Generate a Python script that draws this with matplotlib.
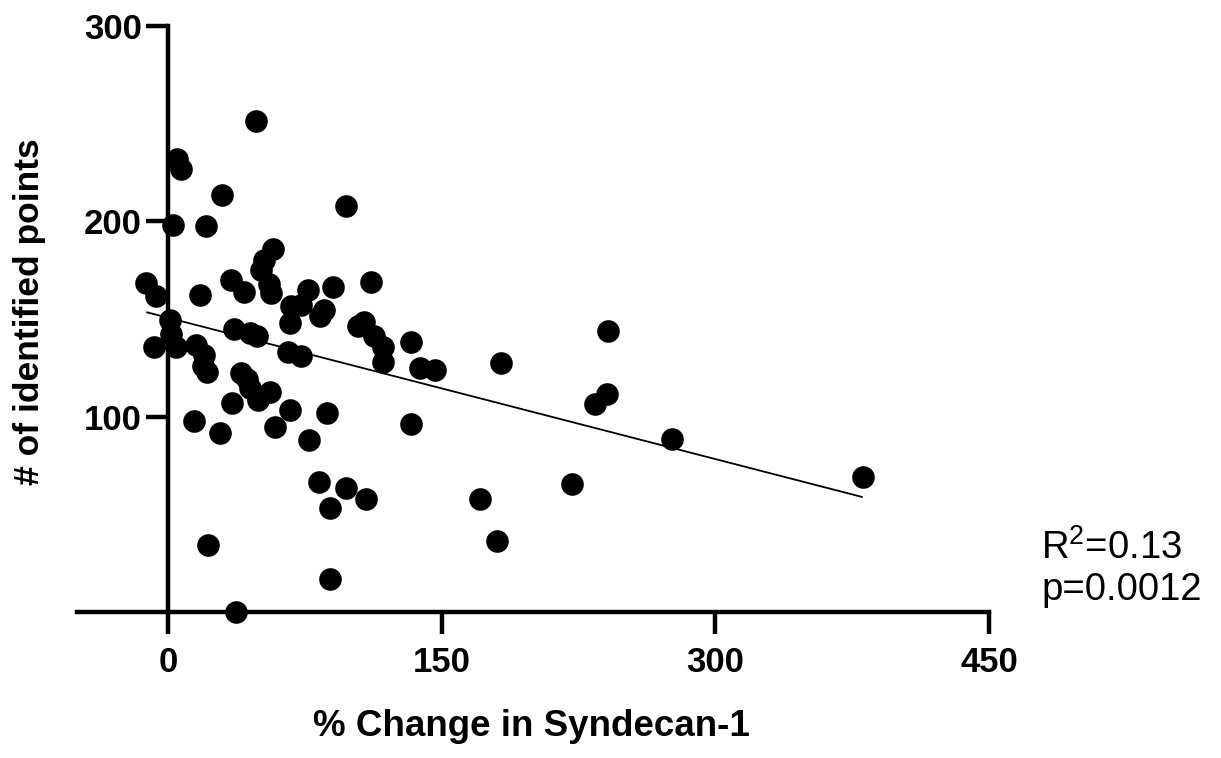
import matplotlib
matplotlib.use("Agg")
import matplotlib.pyplot as plt
import numpy as np

# ---- data ----
pct_change = [-12, -6.5, -8, 1, 1.5, 4.5, 2.7, 4.6, 6.9, 15.5, 17.5, 19.5, 19, 21.5,
              20.6, 29.6, 14, 28.3, 21.9, 35, 37, 34.3, 41.5, 36, 44.7, 48.8, 40, 43,
              45, 49.3, 55.7, 48, 57.2, 52.5, 50.8, 55.3, 56.4, 58.6, 67, 66.8, 67.2,
              73, 76.7, 65.6, 73, 77.3, 82.6, 85.5, 83, 87, 88.9, 88.9, 90.2, 97.5,
              97.7, 104, 107.5, 108.3, 111.2, 113, 117.8, 117.8, 133.3, 133.2, 137.9,
              146.1, 170.7, 180.4, 182.6, 221.4, 233.8, 240.7, 241.1, 276.3, 380.8]
n_points = [168.5, 162, 136, 149.5, 142.5, 136, 198, 232, 227, 137, 162.5, 131.5, 126, 123,
            197.5, 213.5, 98, 92, 34.4, 107, 0.3, 170, 164, 145, 143, 141.5, 122.5, 119.5,
            115, 108.5, 112.5, 251.5, 185.7, 180.3, 175.3, 168, 163.3, 94.6, 103.5, 148, 156.6,
            157.3, 164.7, 133.4, 131.3, 88, 66.5, 154.5, 151.7, 101.8, 53.2, 16.9, 166.4, 207.8,
            63.5, 146.6, 148.5, 58, 169.2, 141.5, 136, 128.3, 138.5, 96.2, 125,
            124, 58, 36.6, 127.4, 65.5, 106.6, 111.7, 144.1, 88.5, 69.4]
fit_slope = -0.241
fit_intercept = 150.7
x_ticks = [0, 150, 300, 450]
y_ticks = [100, 200, 300]
r2_text = "R$^{2}$=0.13"
p_text = "p=0.0012"

plt.rcParams['font.family'] = ['Liberation Sans', 'DejaVu Sans']
plt.rcParams['mathtext.fontset'] = 'custom'
plt.rcParams['mathtext.rm'] = 'Liberation Sans'
plt.rcParams['mathtext.it'] = 'Liberation Sans'
plt.rcParams['mathtext.default'] = 'regular'

fig = plt.figure(figsize=(12.21, 7.58), dpi=100)
ax = fig.add_axes([77/1221, 1-612.3/758, (989-77)/1221, (612.3-26)/758])

ax.set_xlim(-50, 450)
ax.set_ylim(0, 300)

ax.scatter(pct_change, n_points, s=265, c='black', linewidths=0, zorder=3, clip_on=False)

xf = np.array([min(pct_change), max(pct_change)])
ax.plot(xf, fit_intercept + fit_slope * xf, color='black', lw=1.3, zorder=2,
        solid_capstyle='butt')

for side in ['top', 'right']:
    ax.spines[side].set_visible(False)
ax.spines['left'].set_position(('data', 0))
ax.spines['bottom'].set_position(('data', 0))
for side in ['left', 'bottom']:
    ax.spines[side].set_linewidth(3.2)
    ax.spines[side].set_capstyle('projecting')

ax.set_xticks(x_ticks)
ax.set_yticks(y_ticks)
ax.tick_params(axis='both', direction='out', length=16, width=3.2, labelsize=25)
ax.tick_params(axis='x', pad=8)
ax.tick_params(axis='y', pad=3)
for lbl in ax.get_xticklabels() + ax.get_yticklabels():
    lbl.set_fontweight('bold')

fig.text(531/1221, 1-727/758, "% Change in Syndecan-1", ha='center', va='center',
         fontsize=26.5, fontweight='bold')
fig.text(30/1221, 1-312/758, "# of identified points", ha='center', va='center',
         rotation=90, fontsize=25.5, fontweight='bold')
fig.text(1041/1221, 1-548/758, r2_text, ha='left', va='center', fontsize=27.5)
fig.text(1041/1221, 1-590/758, p_text, ha='left', va='center', fontsize=27.5)

fig.savefig("out.png", dpi=100)
